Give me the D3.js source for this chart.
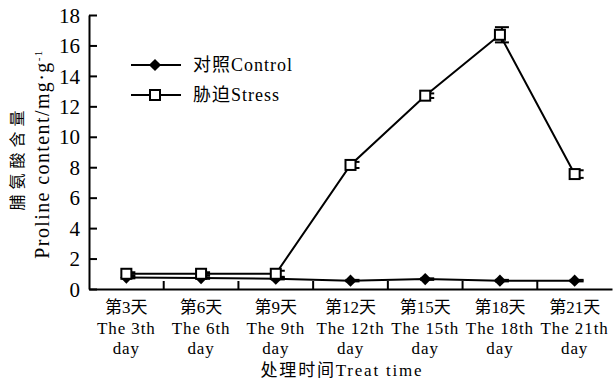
<!DOCTYPE html>
<html>
<head>
<meta charset="utf-8">
<script src="https://cdn.jsdelivr.net/npm/d3@7"></script>
<style>
  html, body { margin: 0; padding: 0; background: #fff; }
  svg { display: block; }
  text { font-family: "Liberation Serif", "Noto Sans CJK SC", serif; fill: #000; }
</style>
</head>
<body>
<svg id="chart" width="613" height="383"></svg>
<script>
// Treatment days (Chinese / English label lines)
const dayZh = ["第3天", "第6天", "第9天", "第12天", "第15天", "第18天", "第21天"];
const dayEn = ["The 3th", "The 6th", "The 9th", "The 12th", "The 15th", "The 18th", "The 21th"];
const categories = dayEn;

// Proline content (mg·g⁻¹)
const controlValues = [0.75, 0.72, 0.68, 0.55, 0.65, 0.55, 0.55];
const controlErrors = [0.05, 0.05, 0.05, 0.05, 0.05, 0.05, 0.05];
const stressValues = [1.0, 1.0, 1.0, 8.15, 12.7, 16.7, 7.55];
const stressErrors = [0.1, 0.1, 0.2, 0.2, 0.15, 0.5, 0.25];

const yTicks = [0, 2, 4, 6, 8, 10, 12, 14, 16, 18];

const svg = d3.select("#chart");
const plotLeft = 89, plotRight = 612, plotTop = 15, plotBottom = 289;

const x = d3.scaleBand().domain(categories).range([plotLeft, plotRight]);
const y = d3.scaleLinear().domain([0, 18]).range([plotBottom, plotTop]);
const cx = d => x(d) + x.bandwidth() / 2;

// Y axis with inward ticks
const yAxis = svg.append("g")
  .attr("transform", `translate(${plotLeft},0)`)
  .call(d3.axisLeft(y).tickValues(yTicks).tickSizeInner(-8).tickSizeOuter(0).tickPadding(9));
yAxis.select(".domain").attr("stroke", "#000").attr("stroke-width", 2);
yAxis.selectAll(".tick line").attr("stroke", "#000").attr("stroke-width", 2);
yAxis.selectAll(".tick text").style("font-size", "21px").attr("dy", "0.34em");

// X axis: labels centred in bands, ticks on band boundaries
const xAxis = svg.append("g")
  .attr("transform", `translate(0,${plotBottom})`)
  .call(d3.axisBottom(x).tickSize(0).tickFormat(""));
xAxis.select(".domain").attr("stroke", "#000").attr("stroke-width", 2);

svg.append("g").selectAll("line")
  .data(categories.slice(1))
  .join("line")
  .attr("x1", d => x(d)).attr("x2", d => x(d))
  .attr("y1", plotBottom).attr("y2", plotBottom - 8)
  .attr("stroke", "#000").attr("stroke-width", 2);

// Three-line category labels
const labelRows = [
  { y: 313, size: 17, spacing: 0, text: (d, i) => dayZh[i] },
  { y: 334, size: 17, spacing: 0.9, text: d => d },
  { y: 354, size: 17, spacing: 0.9, text: () => "day" }
];
const labelG = svg.append("g").attr("text-anchor", "middle");
labelRows.forEach(row => {
  labelG.append("g").selectAll("text")
    .data(categories)
    .join("text")
    .attr("x", d => cx(d))
    .attr("y", row.y)
    .style("font-size", row.size + "px")
    .style("letter-spacing", row.spacing + "px")
    .text(row.text);
});

svg.append("text")
  .attr("x", 342).attr("y", 376)
  .attr("text-anchor", "middle")
  .style("font-size", "17px")
  .style("letter-spacing", "1.8px")
  .text("处理时间Treat time");

// Y axis titles
svg.append("text")
  .attr("transform", "translate(23,158) rotate(-90)")
  .attr("text-anchor", "middle")
  .style("font-size", "16px")
  .style("letter-spacing", "5px")
  .text("脯氨酸含量");
const yt = svg.append("text")
  .attr("transform", "translate(49,154) rotate(-90)")
  .attr("text-anchor", "middle")
  .style("font-size", "20px")
  .style("letter-spacing", "1.4px");
yt.append("tspan").text("Proline content/mg·g");
yt.append("tspan").attr("dy", "-0.6em").style("font-size", "11px").text("-1");

// Series lines
const line = vals => d3.line()
  .x((d, i) => cx(categories[i]))
  .y(d => y(d))(vals);

svg.append("path").attr("d", line(controlValues))
  .attr("fill", "none").attr("stroke", "#000").attr("stroke-width", 2);
svg.append("path").attr("d", line(stressValues))
  .attr("fill", "none").attr("stroke", "#000").attr("stroke-width", 2);

// Error bars
function errorBars(vals, errs) {
  const g = svg.append("g").attr("stroke", "#000").attr("stroke-width", 2);
  vals.forEach((v, i) => {
    const px = cx(categories[i]) + 2;
    const e = errs[i];
    g.append("line").attr("x1", px).attr("x2", px).attr("y1", y(v - e)).attr("y2", y(v + e));
    [v - e, v + e].forEach(w => {
      g.append("line").attr("x1", px - 7).attr("x2", px + 7).attr("y1", y(w)).attr("y2", y(w));
    });
  });
}
errorBars(controlValues, controlErrors);
errorBars(stressValues, stressErrors);

// Markers
const diamond = d3.symbol().type(d3.symbolDiamond2).size(95);
svg.append("g").selectAll("path")
  .data(controlValues)
  .join("path")
  .attr("d", diamond)
  .attr("transform", (d, i) => `translate(${cx(categories[i])},${y(d)})`)
  .attr("fill", "#000");

svg.append("g").selectAll("rect")
  .data(stressValues)
  .join("rect")
  .attr("x", (d, i) => cx(categories[i]) - 5)
  .attr("y", d => y(d) - 5)
  .attr("width", 10).attr("height", 10)
  .attr("fill", "#fff").attr("stroke", "#000").attr("stroke-width", 2);

// Legend
const legend = [
  { name: "对照Control", type: "diamond", y: 65 },
  { name: "胁迫Stress", type: "square", y: 95 }
];
const lg = svg.append("g");
legend.forEach(l => {
  lg.append("line").attr("x1", 131).attr("x2", 181).attr("y1", l.y).attr("y2", l.y)
    .attr("stroke", "#000").attr("stroke-width", 2);
  if (l.type === "diamond") {
    lg.append("path").attr("d", diamond).attr("transform", `translate(155,${l.y})`).attr("fill", "#000");
  } else {
    lg.append("rect").attr("x", 150).attr("y", l.y - 5).attr("width", 10).attr("height", 10)
      .attr("fill", "#fff").attr("stroke", "#000").attr("stroke-width", 2);
  }
  lg.append("text").attr("x", 193).attr("y", l.y + 6)
    .style("font-size", "18px").style("letter-spacing", "1px").text(l.name);
});
</script>
</body>
</html>
